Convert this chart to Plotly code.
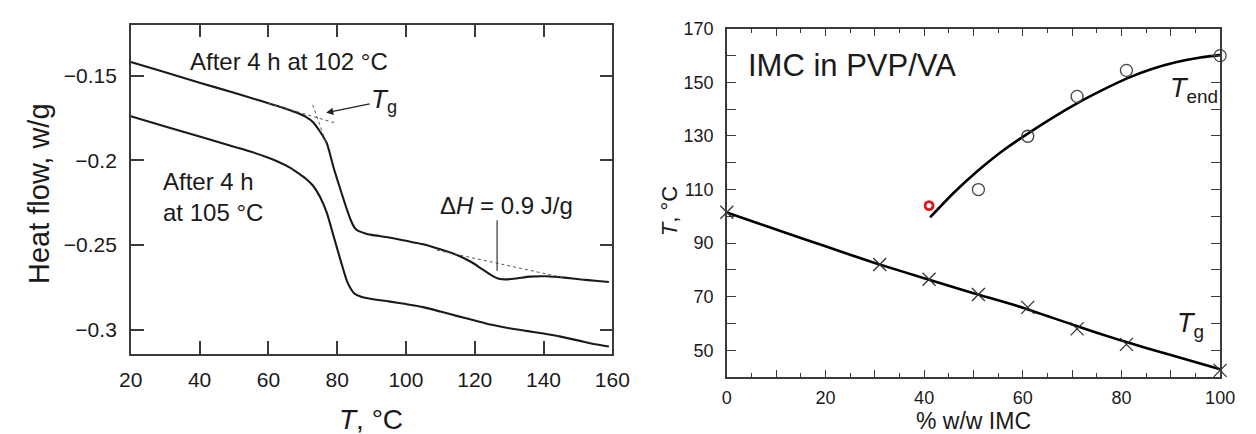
import plotly.graph_objects as go

# ---------------- Left panel: DSC curves ----------------
t_102 = [20, 30, 40, 50, 55, 60, 64, 68, 71, 73, 75, 77, 79, 81, 83, 84, 85, 86, 88, 90, 95,
         100, 105, 110, 115, 119, 122, 125, 127, 129, 132, 136, 141, 146, 151, 155, 159]
hf_102 = [-0.1420, -0.1481, -0.1542, -0.1602, -0.1633, -0.1663, -0.1688, -0.1717, -0.1745,
          -0.1775, -0.1830, -0.1900, -0.2045, -0.2175, -0.2300, -0.2355, -0.2395, -0.2415,
          -0.2430, -0.2440, -0.2455, -0.2475, -0.2495, -0.2525, -0.2560, -0.2600, -0.2640,
          -0.2680, -0.2698, -0.2702, -0.2697, -0.2686, -0.2684, -0.2692, -0.2703, -0.2710,
          -0.2718]

t_105 = [20, 30, 40, 50, 55, 60, 63, 66, 69, 71, 73, 75, 77, 79, 81, 83, 85, 87, 90, 95,
         100, 105, 110, 115, 120, 125, 130, 135, 140, 145, 150, 155, 159]
hf_105 = [-0.1740, -0.1800, -0.1860, -0.1920, -0.1950, -0.1985, -0.2010, -0.2040, -0.2080,
          -0.2110, -0.2150, -0.2215, -0.2310, -0.2450, -0.2590, -0.2720, -0.2785, -0.2805,
          -0.2818, -0.2832, -0.2848, -0.2866, -0.2892, -0.2919, -0.2945, -0.2970, -0.2990,
          -0.3006, -0.3022, -0.3040, -0.3062, -0.3085, -0.3098]

tan1_t = [59.9, 79.1]
tan1_hf = [-0.1663, -0.1778]
tan2_t = [72.9, 76.9]
tan2_hf = [-0.1673, -0.1903]
base_t = [109, 146]
base_hf = [-0.2530, -0.2693]
dh_t = [126.5, 126.5]
dh_hf = [-0.2354, -0.2651]

left_xticks = [20, 40, 60, 80, 100, 120, 140, 160]
left_yticks = [-0.3, -0.25, -0.2, -0.15]
left_yticktext = ["\u22120.3", "\u22120.25", "\u22120.2", "\u22120.15"]

# ---------------- Right panel: Tg / Tend vs composition ----------------
tg_x = [0, 31, 41, 51, 61, 71, 81, 100]
tg_y = [101.5, 82.0, 76.5, 70.8, 66.0, 58.0, 52.2, 42.5]
tg_fit_x = [0, 10, 20, 30, 40, 50, 60, 70, 80, 90, 100]
tg_fit_y = [101.4, 95.1, 88.8, 82.6, 76.9, 71.3, 65.9, 59.6, 53.6, 48.2, 42.9]

tend_x = [51, 61, 71, 81, 100]
tend_y = [110.0, 129.9, 144.8, 154.5, 160.0]
tend_red_x = [41]
tend_red_y = [104.0]
tend_fit_x = [41.2, 46, 51, 56, 61, 66, 71, 76, 81, 86, 91, 96, 100]
tend_fit_y = [99.6, 108.8, 117.2, 124.6, 130.9, 136.8, 142.2, 147.0, 151.4, 154.9, 157.5, 159.3, 160.2]

FONT = "Liberation Sans, Arial, Helvetica, sans-serif"
INK = "#1a1a1a"
FRAME = "#3a3a3a"

fig = go.Figure()

# left traces
fig.add_trace(go.Scatter(x=t_102, y=hf_102, mode="lines", line=dict(color=INK, width=2.1, shape="spline", smoothing=0.6),
                         xaxis="x", yaxis="y", showlegend=False))
fig.add_trace(go.Scatter(x=t_105, y=hf_105, mode="lines", line=dict(color=INK, width=2.1, shape="spline", smoothing=0.6),
                         xaxis="x", yaxis="y", showlegend=False))
for xs, ys in [(tan1_t, tan1_hf), (tan2_t, tan2_hf), (base_t, base_hf)]:
    fig.add_trace(go.Scatter(x=xs, y=ys, mode="lines", line=dict(color="#555", width=1, dash="dot"),
                             xaxis="x", yaxis="y", showlegend=False))
fig.add_trace(go.Scatter(x=dh_t, y=dh_hf, mode="lines", line=dict(color="#333", width=1.2),
                         xaxis="x", yaxis="y", showlegend=False))

# right traces
fig.add_trace(go.Scatter(x=tg_fit_x, y=tg_fit_y, mode="lines", line=dict(color="#000", width=2.6, shape="spline", smoothing=0.5),
                         xaxis="x2", yaxis="y2", showlegend=False, cliponaxis=False))
fig.add_trace(go.Scatter(x=tend_fit_x, y=tend_fit_y, mode="lines", line=dict(color="#000", width=2.6, shape="spline", smoothing=0.5),
                         xaxis="x2", yaxis="y2", showlegend=False, cliponaxis=False))
fig.add_trace(go.Scatter(x=tg_x, y=tg_y, mode="markers",
                         marker=dict(symbol="x-thin", size=13, line=dict(color="#333", width=1.3)),
                         xaxis="x2", yaxis="y2", showlegend=False, cliponaxis=False))
fig.add_trace(go.Scatter(x=tend_x, y=tend_y, mode="markers",
                         marker=dict(symbol="circle-open", size=12, color="#444", line=dict(color="#444", width=1.3)),
                         xaxis="x2", yaxis="y2", showlegend=False, cliponaxis=False))
fig.add_trace(go.Scatter(x=tend_red_x, y=tend_red_y, mode="markers",
                         marker=dict(symbol="circle-open", size=8, color="#e3121b", line=dict(color="#e3121b", width=2.8)),
                         xaxis="x2", yaxis="y2", showlegend=False, cliponaxis=False))

W, H = 1256, 434
common_axis = dict(showline=True, linecolor=FRAME, linewidth=1.5, mirror="ticks", ticks="inside",
                   tickcolor=FRAME, showgrid=False, zeroline=False)

fig.update_layout(
    width=W, height=H,
    margin=dict(l=0, r=0, t=0, b=0),
    paper_bgcolor="white", plot_bgcolor="white",
    font=dict(family=FONT, color=INK),
    xaxis=dict(domain=[121.7 / W, 615 / W], range=[20, 160], tickvals=left_xticks, ticklen=13, tickwidth=1.5,
               tickfont=dict(size=21), anchor="y", ticklabelstandoff=6, **common_axis),
    yaxis=dict(domain=[1 - 351.7 / H, 1 - 15 / H], range=[-0.314, -0.12], tickvals=left_yticks,
               ticktext=left_yticktext, ticklen=13, tickwidth=1.5, tickfont=dict(size=21), anchor="x",
               ticklabelstandoff=8, **common_axis),
    xaxis2=dict(domain=[732.3 / W, 1237.7 / W], range=[0, 100], tick0=0, dtick=10, ticklabelstep=2,
                ticklen=7, tickwidth=1.2, tickfont=dict(size=18), anchor="y2", ticklabelstandoff=4,
                minor=dict(dtick=5, ticklen=4, ticks="inside", tickcolor=FRAME, tickwidth=1.2),
                **common_axis),
    yaxis2=dict(domain=[1 - 375.7 / H, 1 - 19.3 / H], range=[40, 170], tick0=50, dtick=10, ticklabelstep=2,
                ticklen=9, tickwidth=1.2, tickfont=dict(size=18), anchor="x2",
                ticklabelstandoff=8, **common_axis),
)

ann = []
# axis titles
ann.append(dict(xref="paper", yref="paper", x=27 / W, y=1 - 188 / H, text="Heat flow, w/g", textangle=-90,
                showarrow=False, font=dict(size=29), xanchor="center", yanchor="middle"))
ann.append(dict(xref="paper", yref="paper", x=368 / W, y=1 - 419 / H, text="<i>T</i>, °C",
                showarrow=False, font=dict(size=28), xanchor="center", yanchor="middle"))
ann.append(dict(xref="paper", yref="paper", x=673 / W, y=1 - 206 / H, text="<i>T</i>, °C", textangle=-90,
                showarrow=False, font=dict(size=22), xanchor="center", yanchor="middle"))
ann.append(dict(xref="paper", yref="paper", x=985 / W, y=0, text="% w/w IMC",
                showarrow=False, font=dict(size=23), xanchor="center", yanchor="bottom", yshift=-2))
# left panel texts
ann.append(dict(xref="x", yref="y", x=65.9, y=-0.1415, text="After 4 h at 102 °C", showarrow=False,
                font=dict(size=24), xanchor="center", yanchor="middle"))
ann.append(dict(xref="x", yref="y", x=28.8, y=-0.2215, text="After 4 h<br>at 105 °C", showarrow=False,
                font=dict(size=24), xanchor="left", yanchor="middle", align="left"))
ann.append(dict(xref="x", yref="y", x=129.3, y=-0.2268, text="Δ<i>H</i> = 0.9 J/g", showarrow=False,
                font=dict(size=24), xanchor="center", yanchor="middle"))
ann.append(dict(xref="x", yref="y", x=76.8, y=-0.1720, text="<i>T</i><sub>g</sub>", showarrow=True,
                ax=58, ay=-12, arrowhead=2, arrowsize=1.1, arrowwidth=1.3, arrowcolor="#222",
                font=dict(size=26), standoff=0))
# right panel texts
ann.append(dict(xref="x2", yref="y2", x=25.3, y=156.2, text="IMC in PVP/VA", showarrow=False,
                font=dict(size=31), xanchor="center", yanchor="middle"))
ann.append(dict(xref="x2", yref="y2", x=94.7, y=147.1, text="<i>T</i><sub>end</sub>", showarrow=False,
                font=dict(size=27), xanchor="center", yanchor="middle"))
ann.append(dict(xref="x2", yref="y2", x=93.9, y=59.6, text="<i>T</i><sub>g</sub>", showarrow=False,
                font=dict(size=27), xanchor="center", yanchor="middle"))
fig.update_layout(annotations=ann)

fig.write_html("out.html")
